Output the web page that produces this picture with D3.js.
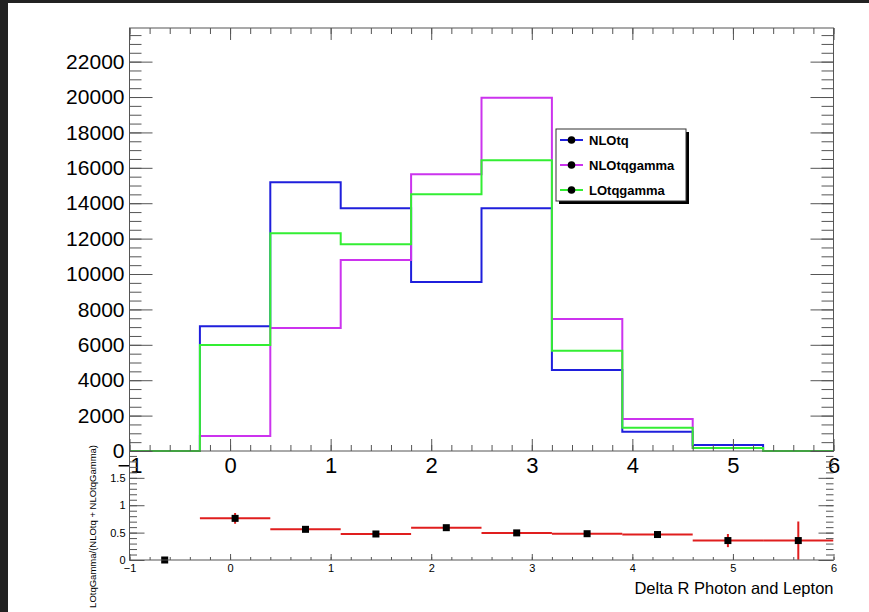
<!DOCTYPE html>
<html>
<head>
<meta charset="utf-8">
<script src="https://cdn.jsdelivr.net/npm/d3@7"></script>
<style>
  html, body { margin: 0; padding: 0; background: #fff; }
  svg { display: block; font-family: "Liberation Sans", Arial, sans-serif; }
</style>
</head>
<body>
<script>
// bin edges of Delta R (10 bins of 0.7 from -1 to 6)
const binEdges = [-1, -0.3, 0.4, 1.1, 1.8, 2.5, 3.2, 3.9, 4.6, 5.3, 6.0];

// histogram contents
const nloTq      = [0, 7050, 15180, 13720, 9550, 13720, 4580, 1090, 340, 0];
const nloTqGamma = [0,  850,  6950, 10790, 15640, 19960, 7460, 1810, 170, 0];
const loTqGamma  = [0, 5990, 12300, 11680, 14510, 16430, 5670, 1320, 170, 0];

// ratio LOtqGamma/(NLOtq + NLOtqGamma) and its errors
const ratio    = [0, 0.76, 0.56, 0.475, 0.59, 0.495, 0.48, 0.465, 0.355, 0.355];
const ratioErr = [0, 0.10, 0.02, 0.02, 0.02, 0.02, 0.02, 0.055, 0.12, 0.35];

const seriesNames  = ["NLOtq", "NLOtqgamma", "LOtqgamma"];
const seriesColors = ["#1f1fdc", "#cc33ee", "#33ee33"];

const W = 869, H = 612;
const svg = d3.select("body").append("svg")
    .attr("width", W)
    .attr("height", H);

// dark window border (top and left)
svg.append("rect").attr("x", 0).attr("y", 0).attr("width", W).attr("height", 3).attr("fill", "#222");
svg.append("rect").attr("x", 0).attr("y", 0).attr("width", 8).attr("height", H).attr("fill", "#222");

// frame geometry
const LEFT = 129.5, RIGHT = 833.5, TOP = 28, MID = 451, BOT = 560;
const AXIS_COL = "#555";

const x = d3.scaleLinear().domain([-1, 6]).range([LEFT, RIGHT]);
const yTop = d3.scaleLinear().domain([0, 23900]).range([MID, TOP]);
const yBot = d3.scaleLinear().domain([0, 1.99]).range([BOT, MID]);

const majorX = d3.range(-1, 6.01, 1);
const minorX = d3.range(-1, 6.01, 0.2).map(v => +v.toFixed(2));
const majorY = d3.range(0, 22001, 2000);
const minorY = d3.range(0, 23900, 500);
const majorR = [0, 0.5, 1, 1.5];
const minorR = d3.range(0, 1.95, 0.1).map(v => +v.toFixed(2));

// helper: draw an axis group and style it
function drawAxis(axis, tx, ty, showLabels, fontSize) {
    let g = svg.append("g")
        .attr("transform", "translate(" + tx + "," + ty + ")")
        .call(axis);
    g.select(".domain").remove();
    g.selectAll("line").attr("stroke", AXIS_COL).attr("stroke-width", 1);
    if (showLabels) {
        g.selectAll("text")
            .attr("fill", "#000")
            .style("font-size", fontSize + "px");
    } else {
        g.selectAll("text").remove();
    }
    return g;
}

// ---------- upper pad: histograms ----------
const up = svg.append("g");

const stepLine = d3.line()
    .x(d => x(d[0]))
    .y(d => yTop(d[1]))
    .curve(d3.curveStepAfter);

[nloTq, nloTqGamma, loTqGamma].forEach((vals, i) => {
    let pts = vals.map((v, j) => [binEdges[j], v]);
    pts.push([binEdges[binEdges.length - 1], vals[vals.length - 1]]);
    up.append("path")
        .attr("d", stepLine(pts))
        .attr("fill", "none")
        .attr("stroke", seriesColors[i])
        .attr("stroke-width", 2);
});

// frame of upper pad
svg.append("rect")
    .attr("x", LEFT).attr("y", TOP)
    .attr("width", RIGHT - LEFT).attr("height", MID - TOP)
    .attr("fill", "none").attr("stroke", AXIS_COL);

// upper axes (ROOT style ticks point inside)
drawAxis(d3.axisLeft(yTop).tickValues(minorY).tickSize(-12), LEFT, 0, false);
drawAxis(d3.axisLeft(yTop).tickValues(majorY).tickSize(-23).tickPadding(5).tickFormat(d3.format("d")), LEFT, 0, true, 21);
drawAxis(d3.axisRight(yTop).tickValues(minorY).tickSize(-12), RIGHT, 0, false);
drawAxis(d3.axisRight(yTop).tickValues(majorY).tickSize(-23), RIGHT, 0, false);
drawAxis(d3.axisTop(x).tickValues(minorX).tickSize(-6), 0, TOP, false);
drawAxis(d3.axisTop(x).tickValues(majorX).tickSize(-12), 0, TOP, false);
drawAxis(d3.axisBottom(x).tickValues(minorX).tickSize(-6), 0, MID, false);
drawAxis(d3.axisBottom(x).tickValues(majorX).tickSize(-12).tickPadding(6).tickFormat(d3.format("d")), 0, MID, true, 22);

// legend
const legX = 556, legY = 129, legW = 130, legH = 72;
svg.append("rect")
    .attr("x", legX + 3).attr("y", legY + 3)
    .attr("width", legW).attr("height", legH)
    .attr("fill", "#000");
svg.append("rect")
    .attr("x", legX).attr("y", legY)
    .attr("width", legW).attr("height", legH)
    .attr("fill", "#fff").attr("stroke", "#333").attr("stroke-width", 1);

seriesNames.forEach((name, i) => {
    let cy = legY + 11 + i * 25;
    svg.append("line")
        .attr("x1", legX + 4).attr("x2", legX + 27)
        .attr("y1", cy).attr("y2", cy)
        .attr("stroke", seriesColors[i]).attr("stroke-width", 2);
    svg.append("circle")
        .attr("cx", legX + 15.5).attr("cy", cy).attr("r", 3.8)
        .attr("fill", "#000");
    svg.append("text")
        .attr("x", legX + 33).attr("y", cy)
        .attr("dy", "0.36em")
        .style("font-size", "13px")
        .style("font-weight", "bold")
        .text(name);
});

// ---------- lower pad: ratio ----------
svg.append("clipPath").attr("id", "lowClip")
    .append("rect")
    .attr("x", LEFT).attr("y", MID)
    .attr("width", RIGHT - LEFT).attr("height", BOT - MID);

const low = svg.append("g").attr("clip-path", "url(#lowClip)");

ratio.forEach((r, i) => {
    let lo = binEdges[i], hi = binEdges[i + 1], c = (lo + hi) / 2;
    if (r > 0) {
        low.append("line")
            .attr("x1", x(lo)).attr("x2", x(hi))
            .attr("y1", yBot(r)).attr("y2", yBot(r))
            .attr("stroke", "#e01e1e").attr("stroke-width", 2);
        low.append("line")
            .attr("x1", x(c)).attr("x2", x(c))
            .attr("y1", yBot(r - ratioErr[i])).attr("y2", yBot(r + ratioErr[i]))
            .attr("stroke", "#e01e1e").attr("stroke-width", 2);
    }
});

ratio.forEach((r, i) => {
    let c = (binEdges[i] + binEdges[i + 1]) / 2;
    svg.append("rect")
        .attr("x", x(c) - 3.5).attr("y", yBot(r) - 3.5)
        .attr("width", 7).attr("height", 7)
        .attr("fill", "#000");
});

// lower axes
svg.append("line")
    .attr("x1", LEFT).attr("x2", LEFT).attr("y1", MID).attr("y2", BOT)
    .attr("stroke", AXIS_COL);
svg.append("line")
    .attr("x1", LEFT).attr("x2", RIGHT).attr("y1", BOT).attr("y2", BOT)
    .attr("stroke", AXIS_COL);

drawAxis(d3.axisLeft(yBot).tickValues(minorR).tickSize(-7.5), LEFT, 0, false);
drawAxis(d3.axisLeft(yBot).tickValues(majorR).tickSize(-15).tickPadding(4).tickFormat(d => d3.format("~g")(d)), LEFT, 0, true, 11);
drawAxis(d3.axisRight(yBot).tickValues(minorR).tickSize(-7.5), RIGHT, 0, false);
drawAxis(d3.axisRight(yBot).tickValues(majorR).tickSize(-15), RIGHT, 0, false);
drawAxis(d3.axisBottom(x).tickValues(minorX).tickSize(-3), 0, BOT, false);
drawAxis(d3.axisBottom(x).tickValues(majorX).tickSize(-6).tickPadding(4).tickFormat(d3.format("d")), 0, BOT, true, 11);

// titles
svg.append("text")
    .attr("x", RIGHT).attr("y", 594)
    .attr("text-anchor", "end")
    .style("font-size", "16.5px")
    .text("Delta R Photon and Lepton");

svg.append("text")
    .attr("transform", "translate(96,445) rotate(-90)")
    .attr("text-anchor", "end")
    .style("font-size", "9.5px")
    .text("LOtqGamma/(NLOtq + NLOtqGamma)");
</script>
</body>
</html>
